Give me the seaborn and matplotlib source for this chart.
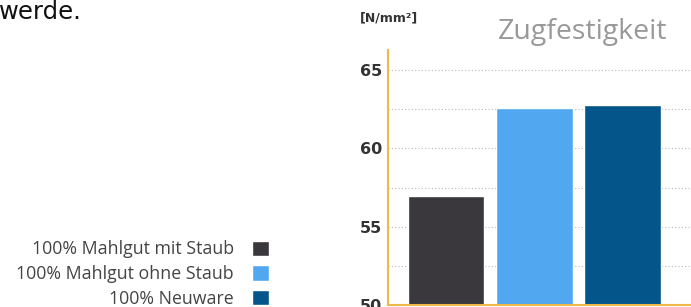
import matplotlib
matplotlib.use('Agg')
import matplotlib.pyplot as plt
import seaborn as sns
from matplotlib.patches import Patch

# daten
kategorien = ['100% Mahlgut mit Staub', '100% Mahlgut ohne Staub', '100% Neuware']
zugfestigkeit = [57.0, 62.6, 62.8]
farben = ['#3a383c', '#52a8f0', '#03558a']
y_ticks = [50, 55, 60, 65]
y_minor = [52.5, 57.5, 62.5]

sns.set_style('white')
plt.rcParams['font.family'] = ['Open Sans', 'DejaVu Sans']

fig = plt.figure(figsize=(6.91, 3.07), dpi=100)
ax = fig.add_axes([0.5615, 0.005, 0.4385, 0.832])

sns.barplot(x=kategorien, y=zugfestigkeit, hue=kategorien, palette=farben,
            width=0.87, legend=False, ax=ax, saturation=1)

ax.set_ylim(50, 66.27)
ax.set_xlim(-0.66, 2.78)
ax.set_yticks(y_ticks)
ax.set_yticks(y_minor, minor=True)
ax.set_yticklabels([str(t) for t in y_ticks], fontsize=11.5, fontweight='bold',
                   color='#333333', family='DejaVu Sans')
ax.tick_params(axis='y', which='both', length=0, pad=4)
ax.set_xticks([])
ax.set_xlabel('')
ax.grid(axis='y', which='both', linestyle=(0, (1, 2)), color='#b8b8b8', linewidth=0.8)
ax.set_axisbelow(True)

for s in ['top', 'right']:
    ax.spines[s].set_visible(False)
for s in ['left', 'bottom']:
    ax.spines[s].set_color('#f0b848')
    ax.spines[s].set_linewidth(1.5)

fig.text(0.521, 0.94, '[N/mm²]', fontsize=9, fontweight='bold', color='#333333',
         family='DejaVu Sans', va='center')
fig.text(0.966, 0.895, 'Zugfestigkeit', fontsize=20.5, color='#999999', ha='right', va='center')
fig.text(0.119, 0.962, 'werde.', fontsize=17.5, color='#111111', family='DejaVu Sans',
         ha='right', va='center')

handles = [Patch(facecolor=c) for c in farben]
fig.legend(handles, kategorien, loc='lower right', bbox_to_anchor=(0.412, -0.055),
           markerfirst=False, frameon=False, fontsize=12.8, labelcolor='#444444',
           handlelength=0.95, handleheight=0.95, handletextpad=1.0, labelspacing=0.38)

fig.savefig('out.png', dpi=100)
